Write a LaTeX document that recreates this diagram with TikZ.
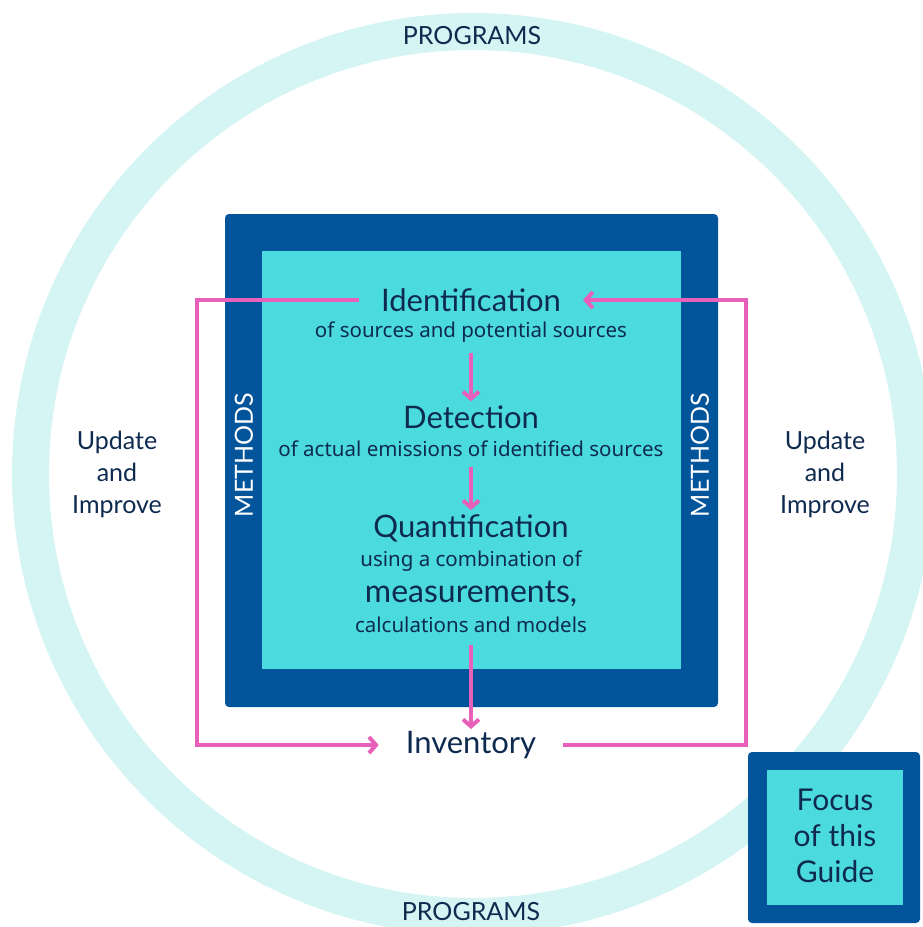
\documentclass[tikz,border=0pt]{standalone}
\usepackage{fontspec}
\usetikzlibrary{arrows.meta,positioning}
\newfontfamily\headfont{Lato}
\newfontfamily\subfont{Noto Sans}
\definecolor{ringcol}{HTML}{D5F4F4}
\definecolor{darkblue}{HTML}{02549B}
\definecolor{cyanfill}{HTML}{4BDADD}
\definecolor{loopcol}{HTML}{E860BA}
\definecolor{navy}{HTML}{0E2B4F}
\begin{document}
\begin{tikzpicture}[x=1pt, y=-1pt,
    head/.style={font=\headfont\fontsize{31}{32}\selectfont, text=navy, inner sep=0pt},
    sub/.style={font=\subfont\fontsize{20.5}{22}\selectfont, text=navy, inner sep=0pt},
    side/.style={font=\headfont\fontsize{25}{32}\selectfont, text=navy, align=center, inner sep=0pt},
    lbl/.style={font=\headfont\fontsize{25}{26}\selectfont, inner sep=0pt},
    flow/.style={draw=loopcol, line width=4pt, -{Straight Barb[length=7pt, width=16pt, line width=4pt]}},
    plain/.style={draw=loopcol, line width=4pt}]
    \useasboundingbox (0,0) rectangle (923,927);

    % programs ring
    \draw[ringcol, line width=37pt] (473,474) circle (442.5);
    \node[lbl, text=navy] (progtop) at (472,36) {PROGRAMS};
    \node[lbl, text=navy] (progbot) at (471,912) {PROGRAMS};

    % methods box
    \fill[darkblue, rounded corners=4pt] (225,214) rectangle (718,707);
    \fill[cyanfill] (262,251) rectangle (681,669);
    \node[lbl, text=white, rotate=90] (methl) at (244,455) {METHODS};
    \node[lbl, text=white, rotate=90] (methr) at (700,455) {METHODS};

    \node[head, inner xsep=22pt] (ident) at (471,300) {Identification};
    \node[sub] (identsub) at (471,332) {of sources and potential sources};
    \node[head] (detect) at (471,417) {Detection};
    \node[sub] (detectsub) at (471,449) {of actual emissions of identified sources};
    \node[head] (quant) at (471,528) {Quantification};
    \node[sub] (quantsub) at (471,561) {using a combination of};
    \node[head, font=\headfont\fontsize{32}{33}\selectfont] (meas) at (471,594) {measurements,};
    \node[sub] (calc) at (471,625) {calculations and models};
    \node[head, inner xsep=27pt] (inv) at (471,745) {Inventory};

    \draw[flow, shorten <=10pt, shorten >=4pt] (identsub) -- (detect);
    \draw[flow, shorten <=10pt, shorten >=4pt] (detectsub) -- (quant);
    \draw[flow, shorten <=12pt, shorten >=2pt] (calc) -- (inv);

    % update loop
    \coordinate (lc) at (197,520);
    \coordinate (rc) at (746,520);
    \draw[flow] (ident.west) -| (lc) |- (inv.west);
    \draw[flow] (inv.east) -| (rc) |- (ident.east);

    \node[side] (updl) at (117,474) {Update\\and\\Improve};
    \node[side] (updr) at (825,474) {Update\\and\\Improve};

    % focus box
    \fill[darkblue, rounded corners=4pt] (748,752) rectangle (920,923);
    \fill[cyanfill] (767,770) rectangle (903,905);
    \node[side, font=\headfont\fontsize{30}{36}\selectfont] (focus) at (835,836) {Focus\\of this\\Guide};
\end{tikzpicture}
\end{document}
